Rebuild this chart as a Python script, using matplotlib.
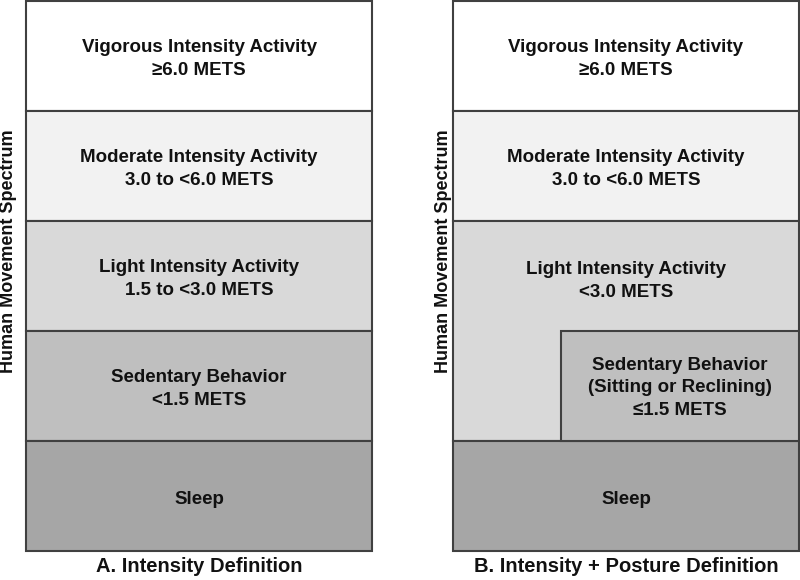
import matplotlib
matplotlib.use("Agg")
from matplotlib import pyplot as plt
from matplotlib.patches import Rectangle

plt.rcParams['font.family'] = ['Liberation Sans', 'DejaVu Sans']

# levels from top to bottom
levels_a = ["Vigorous Intensity Activity\n\u22656.0 METS",
            "Moderate Intensity Activity\n3.0 to <6.0 METS",
            "Light Intensity Activity\n1.5 to <3.0 METS",
            "Sedentary Behavior\n<1.5 METS",
            "Sleep"]
levels_b = ["Vigorous Intensity Activity\n\u22656.0 METS",
            "Moderate Intensity Activity\n3.0 to <6.0 METS",
            "Light Intensity Activity\n<3.0 METS",
            None,
            "Sleep"]
posture_box = "Sedentary Behavior\n(Sitting or Reclining)\n\u22641.5 METS"
shades = ["#ffffff", "#f2f2f2", "#d9d9d9", "#bfbfbf", "#a6a6a6"]
panel_titles = ["A. Intensity Definition", "B. Intensity + Posture Definition"]
axis_label = "Human Movement Spectrum"

edge = "#404040"
txt = "#111111"
top, row_h = 1, 110
panels = [(26, 346), (453, 346)]  # left, width in pixels
label_x = [9, 444]

fig = plt.figure(figsize=(8, 5.8), dpi=100)
ax = fig.add_axes([0, 0, 1, 1])
ax.set_xlim(0, 800)
ax.set_ylim(580, 0)
ax.axis("off")

for p, (levels, (x0, w)) in enumerate(zip([levels_a, levels_b], panels)):
    for i, label in enumerate(levels):
        y0 = top + i * row_h
        if label is None:
            # sedentary box inset on the right, light activity fills the rest
            bx = x0 + 108
            ax.add_patch(Rectangle((bx, y0), x0 + w - bx, row_h,
                                   facecolor=shades[i], edgecolor=edge,
                                   lw=1.5, zorder=3))
            ax.text((bx + x0 + w) / 2, y0 + row_h / 2 + 2, posture_box,
                    ha="center", va="center", fontsize=13.5, fontweight="bold",
                    color=txt, linespacing=1.4, zorder=4)
            continue
        h = row_h
        if p == 1 and i == 2:
            h = 2 * row_h  # light activity extends down behind the inset
        ax.add_patch(Rectangle((x0, y0), w, h, facecolor=shades[i],
                               edgecolor=edge, lw=1.5, zorder=2))
        cy = y0 + row_h / 2 + 3
        if p == 1 and i == 2:
            cy += 2
        ax.text(x0 + w / 2, cy, label, ha="center", va="center",
                fontsize=13.5, fontweight="bold", color=txt,
                linespacing=1.4, zorder=4)
    ax.text(x0 + w / 2, 567, panel_titles[p], ha="center", va="center",
            fontsize=14.5, fontweight="bold", color=txt)
    ax.text(label_x[p], 251, axis_label, ha="center", va="center",
            rotation=90, fontsize=13, fontweight="bold", color=txt)

fig.savefig("out.png", dpi=100)
